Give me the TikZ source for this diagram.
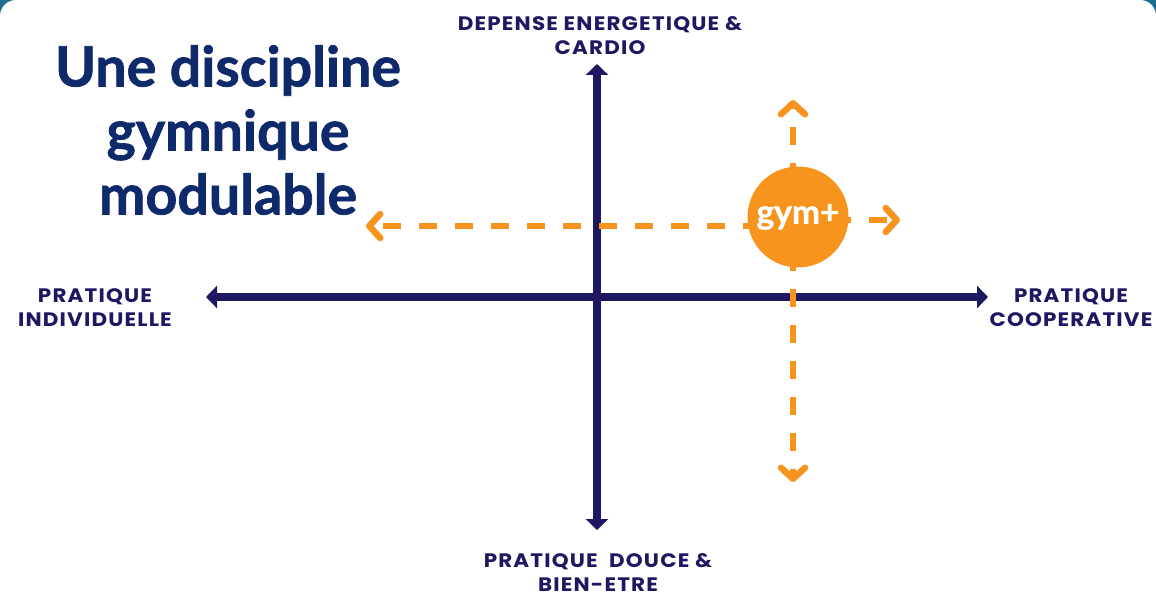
\documentclass[tikz,border=0pt]{standalone}
\usepackage{fontspec}
\setmainfont{Lato}
\newfontfamily\labfont{Poppins}[FakeStretch=1.1, LetterSpace=6]
\newfontfamily\titlefont{Lato Bold}[FakeBold=1.3]
\newfontfamily\gymfont{Lato Bold}[FakeBold=0.9]
\usetikzlibrary{arrows.meta}
\definecolor{navy}{HTML}{1D1862}
\definecolor{titleblue}{HTML}{0E2A6B}
\definecolor{gymorange}{HTML}{F7941D}
\definecolor{cornerteal}{HTML}{1F6E8C}
\tikzset{
  axis/.style={line width=8pt, navy, {Triangle[length=11pt,width=22pt]}-{Triangle[length=11pt,width=22pt]}},
  dashaxis/.style={line width=6.5pt, gymorange, dash pattern=on 18pt off 18pt,
     -{Straight Barb[length=11pt,width=24pt,round,line width=6.5pt]}},
  axlabel/.style={font=\labfont\bfseries\fontsize{19.5}{24}\selectfont, text=navy, align=center, inner sep=0pt, anchor=base},
  gymcircle/.style={circle, fill=gymorange, minimum size=101pt, inner sep=0pt, text=white, font=\gymfont\fontsize{33.5}{33.5}\selectfont},
  titletext/.style={font=\titlefont\fontsize{55.5}{64}\selectfont, text=titleblue, align=center, inner sep=0pt}
}
\begin{document}
\begin{tikzpicture}[x=1pt,y=-1pt]
\useasboundingbox (0,0) rectangle (1156,599);
\fill[cornerteal] (0,0) rectangle (1156,14);
\fill[white, rounded corners=16pt] (0,0) rectangle (1156,640);
% axes
\coordinate (L) at (206,297);
\coordinate (R) at (988,297);
\coordinate (T) at (597,64);
\coordinate (B) at (597,530);
\draw[axis] (L) -- (R);
\draw[axis] (B) -- (T);
% labels (anchored at the baseline of their last line)
\node[axlabel] (top) at (600,55) {DEPENSE ENERGETIQUE \&\\CARDIO};
\node[axlabel] (left) at (95,326) {PRATIQUE\\INDIVIDUELLE};
\node[axlabel] (right) at (1071,326) {PRATIQUE\\COOPERATIVE};
\node[axlabel] (bottom) at (598,591) {PRATIQUE\ \ DOUCE \&\\BIEN-ETRE};
% title
\node[titletext] (title) at (228,130) {Une discipline\\gymnique\\modulable};
% dashed arrows
\coordinate (hl) at (366,226);
\coordinate (hr) at (900,220);
\coordinate (vt) at (793,100);
\coordinate (vb) at (793,482);
\draw[dashaxis] (797,226) -- (hl);
\draw[dashaxis] (797,220) -- (hr);
\draw[dashaxis] (793,217) -- (vt);
\draw[dashaxis] (793,217) -- (vb);
% circle
\node[gymcircle] (gym) at (798,217) {gym+};
\end{tikzpicture}
\end{document}
